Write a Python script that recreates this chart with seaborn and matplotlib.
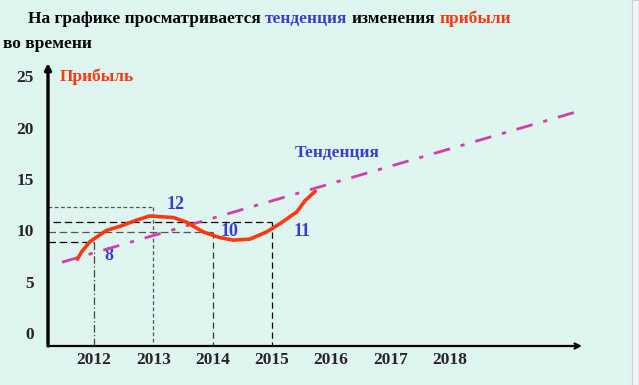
import matplotlib
matplotlib.use("Agg")
import matplotlib.pyplot as plt
import seaborn as sns
import pandas as pd

# ---------------- data ----------------
profit_years = [2011.72, 2011.79, 2011.93, 2012.21, 2012.44, 2012.72, 2012.94,
                2013.34, 2013.56, 2013.84, 2014.12, 2014.35, 2014.63, 2014.91,
                2015.14, 2015.42, 2015.56, 2015.73]
profit_values = [7.2, 7.9, 8.9, 10.0, 10.4, 11.0, 11.4,
                 11.25, 10.8, 9.85, 9.3, 9.05, 9.15, 9.85,
                 10.67, 11.8, 12.9, 13.8]

trend_years = [2011.46, 2020.11]
trend_values = [6.9, 21.5]

mark_years = [2012, 2013, 2014, 2015]
mark_values = [8.9, 12.3, 9.85, 10.8]
mark_labels = ["8", "12", "10", "11"]

year_ticks = [2012, 2013, 2014, 2015, 2016, 2017, 2018]
value_ticks = [0, 5, 10, 15, 20, 25]

title_parts = ["На графике просматривается", "тенденция", "изменения", "прибыли"]
title_line2 = "во времени"

# ---------------- style ----------------
BG = "#dff5f0"
RED = "#ff3a10"
BLUE = "#3d3dcc"
PINK = "#d23fa6"

sns.set_style("white")
plt.rcParams["font.family"] = ["Liberation Serif", "DejaVu Serif"]
plt.rcParams["font.weight"] = "bold"

fig = plt.figure(figsize=(6.39, 3.85), dpi=100)
fig.patch.set_facecolor(BG)
# right border strip
fig.patches.append(plt.Rectangle((632 / 639, 0), 7 / 639, 1, transform=fig.transFigure,
                                 facecolor="#f2f4f4", edgecolor="#c8d0d0", lw=0.8, zorder=0))

W, H = 639, 385
ax = fig.add_axes([48 / W, (H - 346) / H, (582 - 48) / W, (346 - 63) / H])
ax.set_facecolor(BG)
ax.set_xlim(2011.224, 2020.23)
ax.set_ylim(-1.26, 26.3)
for s in ax.spines.values():
    s.set_visible(False)

# axes arrows
ax.annotate("", xy=(0, 1), xytext=(0, 0), xycoords="axes fraction",
            arrowprops=dict(arrowstyle="-|>", color="black", lw=2.4,
                            mutation_scale=9, shrinkA=0, shrinkB=0))
ax.annotate("", xy=(1, 0), xytext=(0, 0), xycoords="axes fraction",
            arrowprops=dict(arrowstyle="->", color="black", lw=1.6,
                            mutation_scale=9, shrinkA=0, shrinkB=0))

# ticks
ax.set_xticks(year_ticks)
ax.set_xticklabels([str(y) for y in year_ticks], fontsize=12.5, fontweight="bold")
ax.set_yticks(value_ticks)
ax.set_yticklabels([str(v) for v in value_ticks], fontsize=12.5, fontweight="bold")
ax.tick_params(axis="x", length=0, pad=4)
ax.tick_params(axis="y", length=0, pad=10)

# guide lines
x0 = ax.get_xlim()[0]
guide_styles = [
    dict(h=dict(color="black", ls=(0, (6, 3)), lw=0.9), v=dict(color="#444444", ls=(0, (6, 2, 1, 2)), lw=0.9), hx=x0),
    dict(h=dict(color="#555555", ls=(0, (3, 2)), lw=0.9), v=dict(color="#555555", ls=(0, (3, 2)), lw=0.9), hx=x0),
    dict(h=dict(color="#555555", ls=(0, (6, 3)), lw=0.9), v=dict(color="#333333", ls=(0, (5, 3)), lw=0.9), hx=x0),
    dict(h=dict(color="black", ls=(0, (6, 3)), lw=0.9), v=dict(color="black", ls=(0, (5, 3)), lw=0.9), hx=2011.31),
]
label_offsets = [(10, -14), (13, 2), (8, 0), (22, -9)]
ybot = ax.get_ylim()[0]
for yr, val, lab, st, off in zip(mark_years, mark_values, mark_labels, guide_styles, label_offsets):
    ax.plot([st["hx"], yr], [val, val], **st["h"], zorder=1)
    ax.plot([yr, yr], [val, ybot], **st["v"], zorder=1)
    ax.annotate(lab, xy=(yr, val), xytext=off, textcoords="offset pixels",
                color=BLUE, fontsize=13, fontweight="bold", ha="left", va="center")

# trend line
trend_df = pd.DataFrame({"year": trend_years, "value": trend_values})
sns.lineplot(data=trend_df, x="year", y="value", ax=ax, color=PINK, lw=2,
             linestyle=(0, (6, 4, 1.5, 4)), zorder=3)

# profit curve
profit_df = pd.DataFrame({"year": profit_years, "value": profit_values})
sns.lineplot(data=profit_df, x="year", y="value", ax=ax, color=RED, lw=2.6,
             sort=False, estimator=None, zorder=4)
ax.set_xlabel("")
ax.set_ylabel("")

ax.text(60 / W, (H - 77) / H, "Прибыль", transform=fig.transFigure, color=RED,
        fontsize=12.5, fontweight="bold", ha="left", va="center")
ax.text(295 / W, (H - 153) / H, "Тенденция", transform=fig.transFigure, color=BLUE,
        fontsize=12.5, fontweight="bold", ha="left", va="center")

# title (multi-coloured)
fig.canvas.draw()
renderer = fig.canvas.get_renderer()
title_colors = ["black", BLUE, "black", RED]
tsize = 12.5
xpix = 28
space = None
for part, col in zip(title_parts, title_colors):
    t = fig.text(xpix / W, (H - 19) / H, part, color=col, fontsize=tsize,
                 fontweight="bold", ha="left", va="center")
    bb = t.get_window_extent(renderer)
    if space is None:
        probe = fig.text(0, 0, "ab", fontsize=tsize, fontweight="bold")
        probe2 = fig.text(0, 0, "a b", fontsize=tsize, fontweight="bold")
        space = probe2.get_window_extent(renderer).width - probe.get_window_extent(renderer).width
        probe.remove(); probe2.remove()
    xpix += bb.width + space
fig.text(3 / W, (H - 44) / H, title_line2, color="black", fontsize=tsize,
         fontweight="bold", ha="left", va="center")

fig.savefig("out.png", dpi=100, facecolor=BG)
